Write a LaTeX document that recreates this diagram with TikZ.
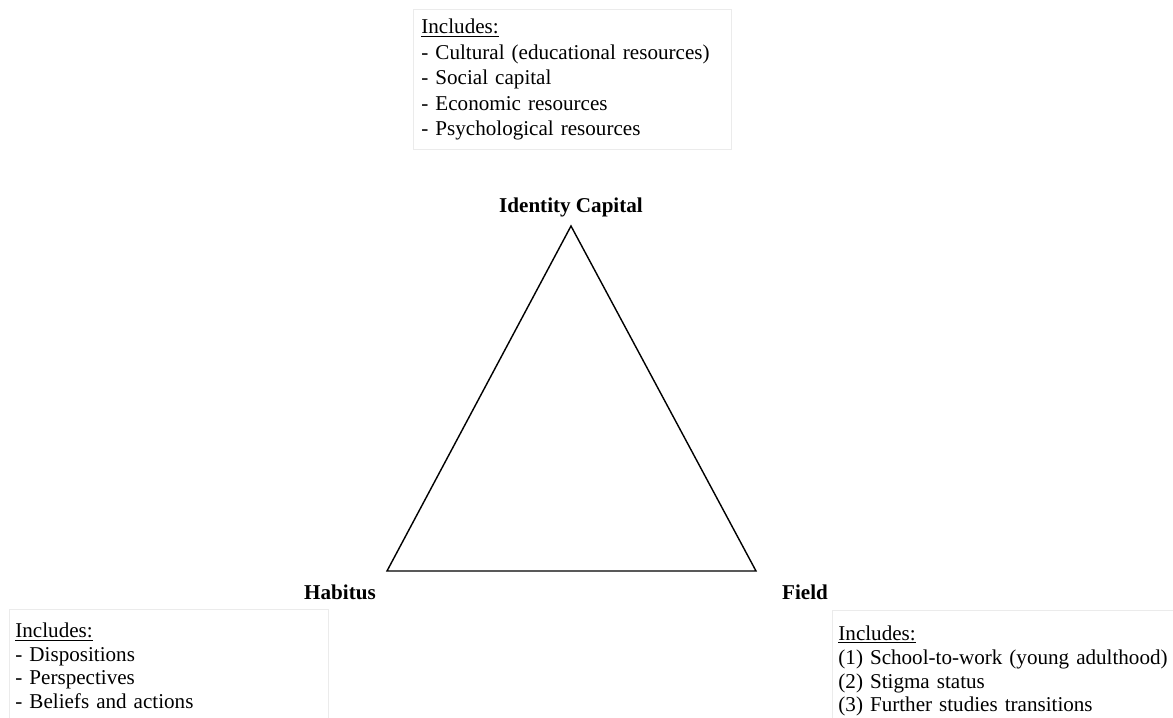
\documentclass[tikz,border=0pt]{standalone}
\usepackage{fontspec}
\setmainfont{Liberation Serif}
\usetikzlibrary{positioning}

\begin{document}
\begin{tikzpicture}[x=0.025cm, y=-0.025cm,
	listbox/.style={rectangle, draw=black!8, line width=0.6pt, fill=white, anchor=north west, align=left, font=\fontsize{15}{16.7}\selectfont},
	cornerlabel/.style={font=\fontsize{15}{18}\selectfont\bfseries}]

\useasboundingbox (0,0) rectangle (1173,718);

\coordinate (apex) at (571,226);
\coordinate (habituscorner) at (387,571);
\coordinate (fieldcorner) at (756,571);
\draw[black, line width=1pt, line join=miter] (apex) -- (habituscorner) -- (fieldcorner) -- cycle;

\node[cornerlabel, above=0.1cm of apex] (idcapital) {Identity Capital};
\node[cornerlabel, anchor=base] (habitus) at (340,599) {Habitus};
\node[cornerlabel, anchor=base] (field) at (805,599) {Field};

\node[listbox, text width=7.55cm, inner xsep=0.2cm, inner ysep=0.24cm, font=\fontsize{15}{18.1}\selectfont] (capitallist) at (413,9) {\underline{Includes:}\\- Cultural (educational resources)\\- Social capital\\- Economic resources\\- Psychological resources};
\node[listbox, text width=7.675cm, inner xsep=0.15cm, inner ysep=0.34cm] (habituslist) at (9,609) {\underline{Includes:}\\- Dispositions\\- Perspectives\\- Beliefs and actions};
\node[listbox, text width=9cm, inner xsep=0.15cm, inner ysep=0.38cm, font=\fontsize{15}{17}\selectfont] (fieldlist) at (832,610) {\underline{Includes:}\\(1) School-to-work (young adulthood)\\(2) Stigma status\\(3) Further studies transitions};
\end{tikzpicture}
\end{document}
